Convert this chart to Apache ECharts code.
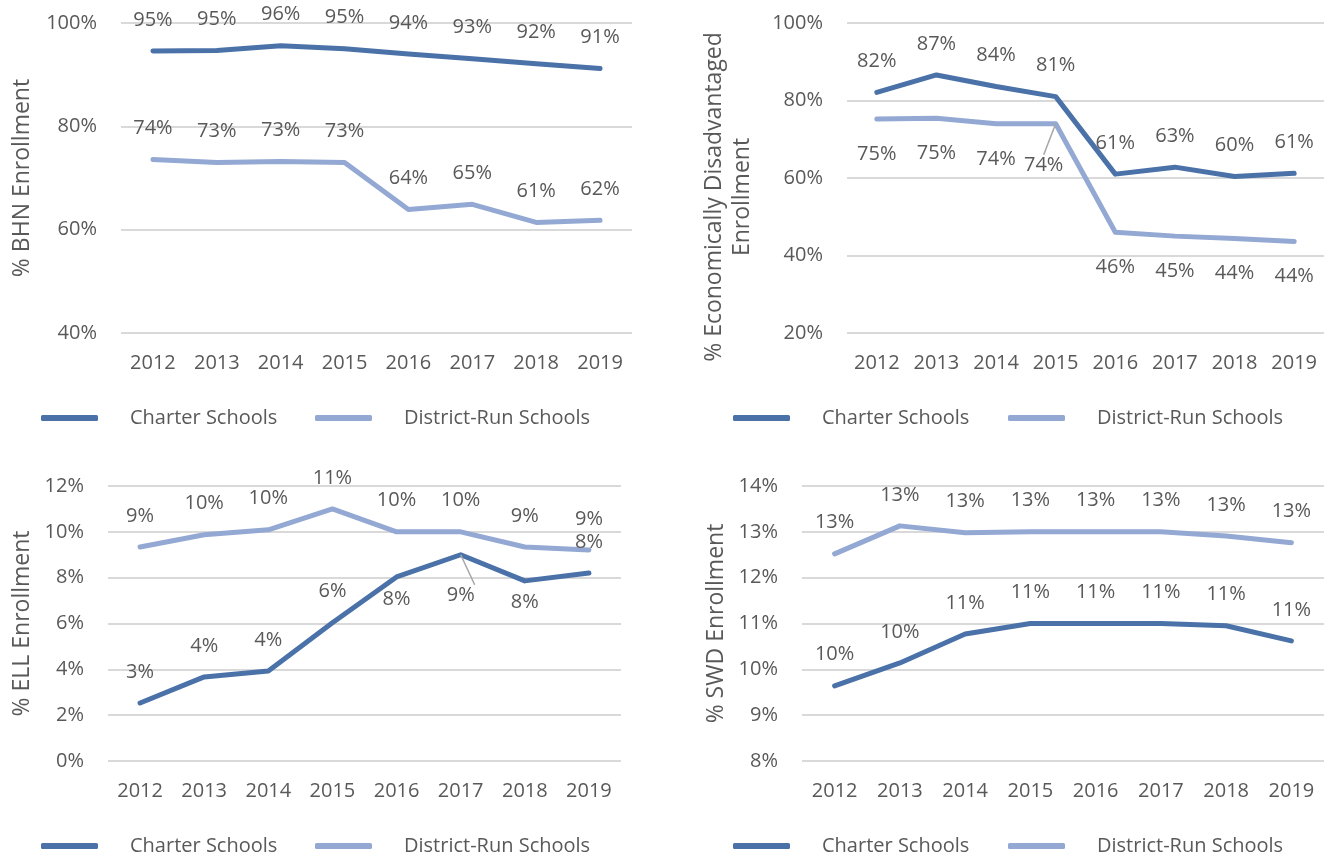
<!DOCTYPE html>
<html>
<head>
<meta charset="utf-8">
<script src="https://cdn.jsdelivr.net/npm/echarts@6/dist/echarts.min.js"></script>
<style>
  html, body { margin: 0; padding: 0; background: #fff; }
  #chart { width: 1333px; height: 857px; }
</style>
</head>
<body>
<div id="chart"></div>
<script>
// categories
const years = ['2012', '2013', '2014', '2015', '2016', '2017', '2018', '2019']

// % BHN enrollment
const bhnCharter = [94.6, 94.7, 95.6, 95.0, 94.0, 93.1, 92.1, 91.2]
const bhnDistrict = [73.6, 73.0, 73.2, 73.0, 63.9, 64.9, 61.4, 61.8]

// % economically disadvantaged enrollment
const econCharter = [82.1, 86.6, 83.6, 81.0, 61.0, 62.8, 60.4, 61.2]
const econDistrict = [75.2, 75.4, 74.0, 74.0, 46.0, 45.0, 44.4, 43.6]

// % ELL enrollment
const ellCharter = [2.53, 3.67, 3.93, 6.03, 8.03, 9.0, 7.86, 8.2]
const ellDistrict = [9.34, 9.87, 10.09, 11.0, 10.0, 10.0, 9.34, 9.21]

// % SWD enrollment
const swdCharter = [9.64, 10.14, 10.77, 11.0, 11.0, 11.0, 10.95, 10.62]
const swdDistrict = [12.52, 13.13, 12.98, 13.0, 13.0, 13.0, 12.91, 12.76]

const seriesNames = ['Charter Schools', 'District-Run Schools']

const fontFamily = '"Open Sans", sans-serif'
const textColor = '#595959'
const gridColor = '#d9d9d9'
const charterColor = '#4a72a8'
const districtColor = '#93a9d3'

const chart = echarts.init(document.getElementById('chart'))

// panel layout
const panels = [
  { grid: { left: 121, top: 23, width: 511, height: 310 }, min: 40, max: 100, interval: 20,
    name: '% BHN Enrollment', nameGap: 85, namePad: 0, legendTop: 408, legendLeft: [41, 315] },
  { grid: { left: 847, top: 23, width: 477, height: 310 }, min: 20, max: 100, interval: 20,
    name: '% Economically Disadvantaged\nEnrollment', nameGap: 91, namePad: 38, legendTop: 408, legendLeft: [733, 1008] },
  { grid: { left: 108, top: 486, width: 513, height: 275 }, min: 0, max: 12, interval: 2,
    name: '% ELL Enrollment', nameGap: 72, namePad: 0, legendTop: 836, legendLeft: [41, 315] },
  { grid: { left: 802, top: 486, width: 522, height: 275 }, min: 8, max: 14, interval: 1,
    name: '% SWD Enrollment', nameGap: 72, namePad: 0, legendTop: 836, legendLeft: [733, 1008] }
]

// label placement per point: [position, distance]
const above = years.map(() => ['top', 21])
const labelPlacement = [
  [above, above],
  [above, years.map(() => ['bottom', 25])],
  [above.map((p, i) => i === 4 ? ['bottom', 12] : i === 5 ? ['bottom', 30] : i === 6 ? ['bottom', 11] : p), above],
  [above, above]
]
const leaderLines = { '1-1': 3, '2-0': 5 } // panel-series -> index with a leader line
const labelShift = { '1-1': { dx: -12, dy: 6 } }

const values = [
  [bhnCharter, bhnDistrict],
  [econCharter, econDistrict],
  [ellCharter, ellDistrict],
  [swdCharter, swdDistrict]
]

const baseText = { fontFamily, fontSize: 20, color: textColor }

const series = []
values.forEach((pair, pi) => {
  pair.forEach((vals, si) => {
    const key = pi + '-' + si
    series.push({
      name: seriesNames[si],
      type: 'line',
      xAxisIndex: pi,
      yAxisIndex: pi,
      symbol: 'circle',
      symbolSize: 0.1,
      showAllSymbol: true,
      itemStyle: { color: si === 0 ? charterColor : districtColor },
      lineStyle: { width: 5, cap: 'round', join: 'round', color: si === 0 ? charterColor : districtColor },
      emphasis: { disabled: true },
      label: {
        show: true,
        ...baseText,
        formatter: p => Math.round(p.value) + '%'
      },
      labelLayout: labelShift[key]
        ? p => (p.dataIndex === leaderLines[key] ? labelShift[key] : {})
        : undefined,
      data: vals.map((v, i) => {
        const item = {
          value: v,
          label: { position: labelPlacement[pi][si][i][0], distance: labelPlacement[pi][si][i][1] }
        }
        if (leaderLines[key] === i) {
          item.labelLine = { show: true, lineStyle: { color: '#a6a6a6', width: 1.5 } }
        }
        return item
      })
    })
  })
})

const legends = []
panels.forEach(p => {
  seriesNames.forEach((n, si) => {
    legends.push({
      data: [n],
      left: p.legendLeft[si],
      top: p.legendTop,
      padding: 0,
      icon: 'roundRect',
      itemWidth: 57,
      itemHeight: 6,
      selectedMode: false,
      textStyle: { ...baseText, padding: [0, 0, 0, 27] }
    })
  })
})

const option = {
  animation: false,
  textStyle: { fontFamily },
  grid: panels.map(p => ({ ...p.grid, outerBoundsMode: 'none', containLabel: false })),
  legend: legends,
  xAxis: panels.map((p, i) => ({
    type: 'category',
    gridIndex: i,
    data: years,
    boundaryGap: true,
    axisLine: { show: false },
    axisTick: { show: false },
    axisLabel: { ...baseText, margin: 20 }
  })),
  yAxis: panels.map((p, i) => ({
    type: 'value',
    gridIndex: i,
    min: p.min,
    max: p.max,
    interval: p.interval,
    name: p.name,
    nameLocation: 'middle',
    nameGap: p.nameGap,
    nameTextStyle: { ...baseText, fontSize: 23, lineHeight: 28, padding: [0, p.namePad, 0, 0] },
    axisLine: { show: false },
    axisTick: { show: false },
    axisLabel: { ...baseText, margin: 24, formatter: '{value}%' },
    splitLine: { lineStyle: { color: gridColor, width: 2 } }
  })),
  series
}

chart.setOption(option)
</script>
</body>
</html>
